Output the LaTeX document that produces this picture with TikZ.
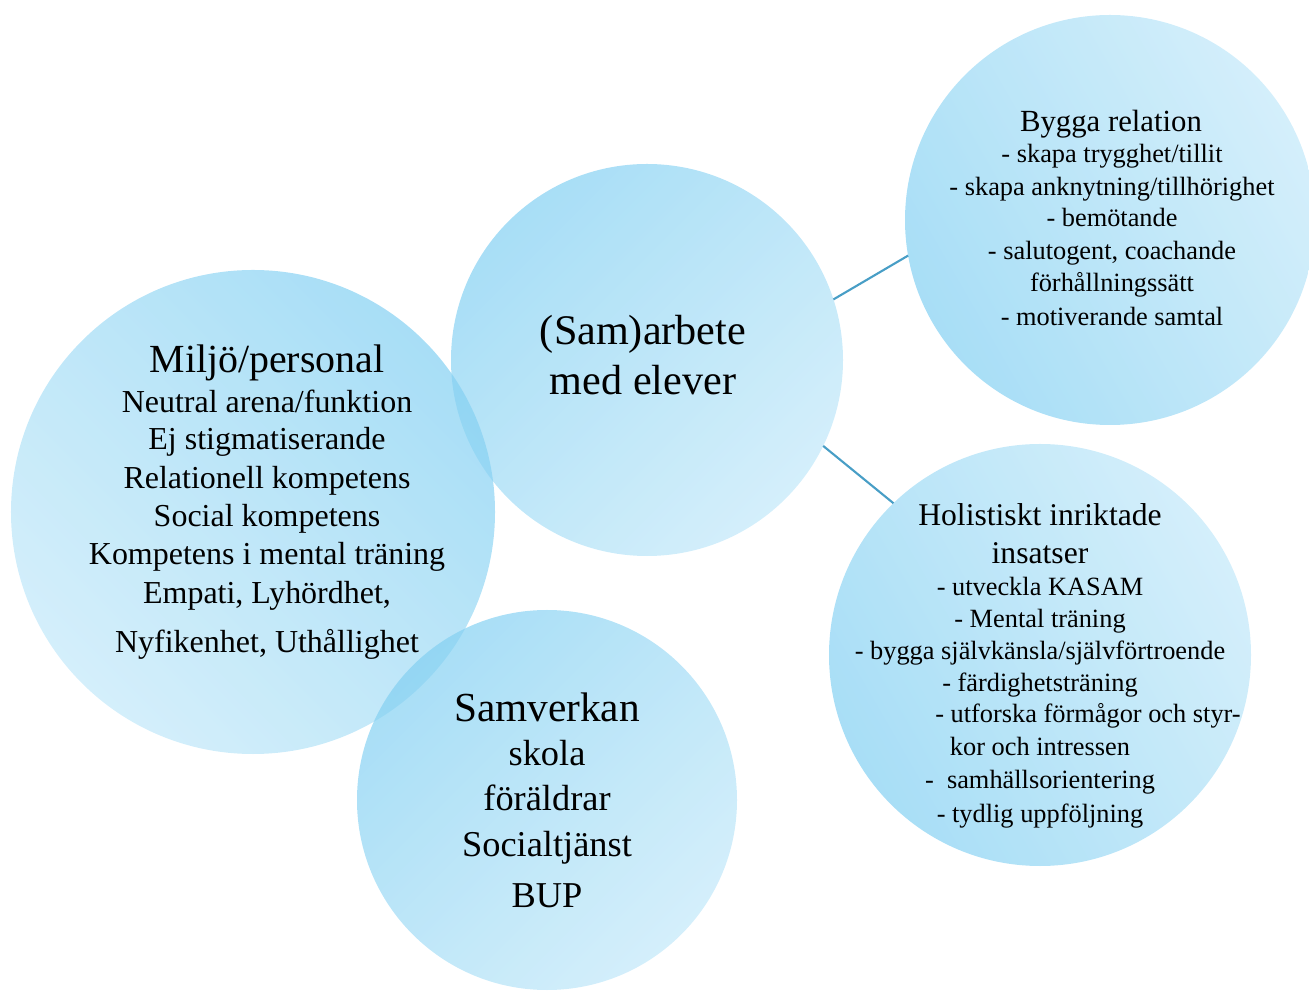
\documentclass[tikz,border=0pt]{standalone}
\usepackage{fontspec}
\setmainfont{Liberation Serif}
\usetikzlibrary{positioning}
\definecolor{bubbleDark}{RGB}{131,208,242}
\definecolor{bubbleLight}{RGB}{194,232,249}
\definecolor{linkBlue}{RGB}{72,158,198}

\tikzset{
    bubble/.style={circle, inner sep=0pt, outer sep=0pt, minimum size=#1,
        top color=bubbleDark, bottom color=bubbleLight, fill opacity=0.7},
    heading/.style={anchor=base, inner sep=0pt, font=\fontsize{#1pt}{#1pt}\selectfont},
    entry/.style={anchor=base, inner sep=0pt, font=\fontsize{#1pt}{#1pt}\selectfont},
    link/.style={draw=linkBlue, line width=1.2pt}
}

\begin{document}
\begin{tikzpicture}[x=0.2mm, y=-0.2mm]
    \clip (0,0) rectangle (1309,992);

    % circles
    \node[bubble=78.4mm, shading angle=45] (arbete) at (647,360) {};
    \node[bubble=96.8mm, shading angle=-45] (miljo) at (253,512) {};
    \node[bubble=76mm, shading angle=45] (samverkan) at (547,800) {};
    \node[bubble=82mm, shading angle=120] (relation) at (1110,220) {};
    \node[bubble=84.4mm, shading angle=120] (holist) at (1040,655) {};

    % connectors
    \draw[link] (arbete.18) -- (relation.190);
    \draw[link] (arbete.-26) -- (holist.134);

    % (Sam)arbete med elever
    \node[heading=24] (arbete-title) at (643,345) {(Sam)arbete};
    \node[heading=24] (arbete-sub) at (643,395) {med elever};

    % Miljö/personal
    \node[heading=22.7] (miljo-title) at (267,373) {Miljö/personal};
    \foreach \y/\txt [count=\i] in {412.7/{Neutral arena/funktion}, 450/{Ej stigmatiserande},
        488.7/{Relationell kompetens}, 526.7/{Social kompetens}, 565/{Kompetens i mental träning},
        604/{Empati, Lyhördhet,}, 652.7/{Nyfikenhet, Uthållighet}}
        \node[entry=18.2] (miljo-\i) at (267,\y) {\txt};

    % Samverkan
    \node[heading=23.5] (samverkan-title) at (547,721.7) {Samverkan};
    \foreach \y/\txt [count=\i] in {765.7/skola, 811/föräldrar, 856.7/Socialtjänst, 907/BUP}
        \node[entry=20.7] (samverkan-\i) at (547,\y) {\txt};

    % Bygga relation
    \node[heading=17.5] (relation-title) at (1111,132) {Bygga relation};
    \foreach \y/\txt [count=\i] in {163/{- skapa trygghet/tillit}, 196/{- skapa anknytning/tillhörighet},
        227/{- bemötande}, 260/{- salutogent, coachande}, 292/{förhållningssätt},
        326/{- motiverande samtal}}
        \node[entry=15] (relation-\i) at (1112,\y) {\txt};

    % Holistiskt inriktade insatser
    \node[heading=18] (holist-title) at (1040,526) {Holistiskt inriktade};
    \node[heading=18] (holist-sub) at (1040,564) {insatser};
    \foreach \y/\txt [count=\i] in {596/{- utveckla KASAM}, 628/{- Mental träning},
        660/{- bygga självkänsla/självförtroende}, 692/{- färdighetsträning},
        756/{kor och intressen}, 788/{-\ \ samhällsorientering}, 823/{- tydlig uppföljning}}
        \node[entry=15] (holist-\i) at (1040,\y) {\txt};
    \node[entry=15] (holist-styr) at (1088,723) {- utforska förmågor och styr-};
\end{tikzpicture}
\end{document}
